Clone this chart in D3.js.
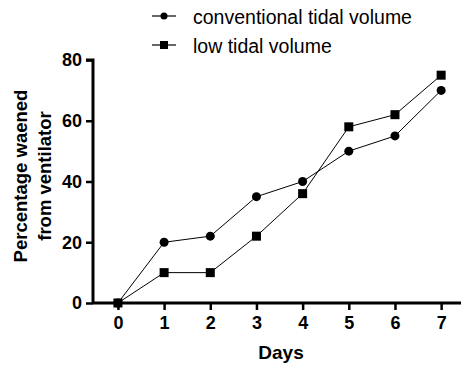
<!DOCTYPE html>
<html>
<head>
<meta charset="utf-8">
<script src="https://cdn.jsdelivr.net/npm/d3@7"></script>
<style>
  body { margin: 0; background: #fff; }
  svg { display: block; font-family: Arial, "Liberation Sans", Helvetica, sans-serif; }
</style>
</head>
<body>
<svg id="chart"></svg>
<script>
// Data
const days = [0, 1, 2, 3, 4, 5, 6, 7];
const conventional = [0, 20, 22, 35, 40, 50, 55, 70];
const lowTidal = [0, 10, 10, 22, 36, 58, 62, 75];
const yTicks = [0, 20, 40, 60, 80];
const seriesNames = ["conventional tidal volume", "low tidal volume"];

const svgWidth = 461;
const svgHeight = 365;

const svg = d3.select("#chart").attr("width", svgWidth).attr("height", svgHeight);

// Scales
const x = d3.scaleLinear().domain([-0.54, 7.43]).range([93, 461]);
const y = d3.scaleLinear().domain([0, 80]).range([303, 60]);

// Y axis
const yAxis = svg
  .append("g")
  .attr("transform", "translate(93,0)")
  .call(d3.axisLeft(y).tickValues(yTicks).tickSize(7).tickPadding(4));

// X axis
const xAxis = svg
  .append("g")
  .attr("transform", "translate(0,303)")
  .call(d3.axisBottom(x).tickValues(days).tickSize(7).tickPadding(6));

[yAxis, xAxis].forEach((ax) => {
  ax.select(".domain").style("stroke", "#000").style("stroke-width", "3px");
  ax.selectAll(".tick line").style("stroke", "#000").style("stroke-width", "2.5px");
  ax.selectAll(".tick text")
    .attr("fill", "#000")
    .style("font-size", "18px")
    .style("font-weight", "bold");
});
// remove outer ticks from domain path
yAxis.select(".domain").attr("d", `M-7,${y(80)}H0V${y(0)}`);
xAxis.select(".domain").attr("d", `M93,0H461`);

// Axis titles
svg
  .append("text")
  .attr("x", 281)
  .attr("y", 359)
  .attr("text-anchor", "middle")
  .style("font-size", "19px")
  .style("font-weight", "bold")
  .text("Days");

const yTitle = svg
  .append("text")
  .attr("transform", "translate(0,176) rotate(-90)")
  .attr("text-anchor", "middle")
  .style("font-size", "18.5px")
  .style("font-weight", "bold");
yTitle.append("tspan").attr("x", 0).attr("y", 27).text("Percentage waened");
yTitle.append("tspan").attr("x", 0).attr("y", 51).text("from ventilator");

// Lines
const line = d3
  .line()
  .x((d, i) => x(days[i]))
  .y((d) => y(d));

svg.append("path").datum(conventional).attr("d", line)
  .attr("fill", "none").attr("stroke", "#000").attr("stroke-width", 1);
svg.append("path").datum(lowTidal).attr("d", line)
  .attr("fill", "none").attr("stroke", "#000").attr("stroke-width", 1);

// Markers
svg.selectAll(".circle-pt")
  .data(conventional)
  .enter()
  .append("circle")
  .attr("class", "circle-pt")
  .attr("cx", (d, i) => x(days[i]))
  .attr("cy", (d) => y(d))
  .attr("r", 4.5)
  .attr("fill", "#000");

const sq = 9;
svg.selectAll(".square-pt")
  .data(lowTidal)
  .enter()
  .append("rect")
  .attr("class", "square-pt")
  .attr("x", (d, i) => x(days[i]) - sq / 2)
  .attr("y", (d) => y(d) - sq / 2)
  .attr("width", sq)
  .attr("height", sq)
  .attr("fill", "#000");

// Legend
const legend = svg
  .append("g")
  .selectAll("g")
  .data(seriesNames)
  .enter()
  .append("g")
  .attr("transform", (d, i) => `translate(152,${16 + i * 29})`);

legend.append("line")
  .attr("x1", 0).attr("x2", 24).attr("y1", 0).attr("y2", 0)
  .attr("stroke", "#000").attr("stroke-width", 1.2);
legend.filter((d, i) => i === 0).append("circle")
  .attr("cx", 12).attr("cy", 0).attr("r", 3.5).attr("fill", "#000");
legend.filter((d, i) => i === 1).append("rect")
  .attr("x", 12 - 4).attr("y", -4).attr("width", 8).attr("height", 8).attr("fill", "#000");
legend.append("text")
  .attr("x", 41)
  .attr("y", 8)
  .style("font-size", "19.5px")
  .text((d) => d);
</script>
</body>
</html>
